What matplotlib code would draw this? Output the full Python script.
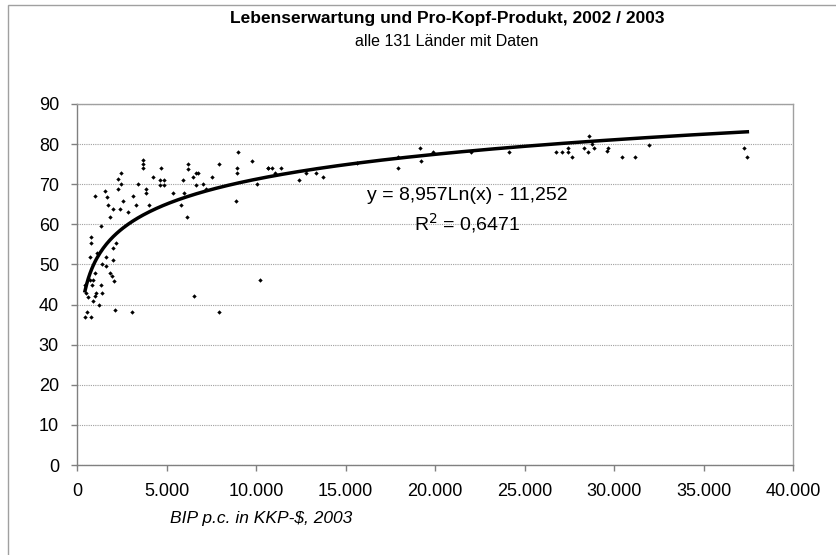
import numpy as np
import matplotlib
matplotlib.use("Agg")
import matplotlib.pyplot as plt
from matplotlib.ticker import FuncFormatter, MultipleLocator
from matplotlib.patches import Rectangle

# ---- data ----
gdp = [3706, 3706, 3706, 6220, 6220, 9013, 9760, 8920, 8920, 7950,
       10650, 2458, 4675, 4637, 4880, 4637, 4880, 6650, 6780, 6500,
       5940, 2310, 2458, 3390, 3855, 3855, 4263, 5347, 5995, 7057,
       7560, 7207, 6650, 10075, 8865, 5810, 6163, 1564, 1658, 1006,
       2310, 2550, 3110, 1995, 2402, 1750, 2832, 3296, 4040, 1844,
       1341, 726, 765, 765, 1603, 1603, 1995, 2162, 1995, 1413,
       1100, 1006, 1844, 1940, 2084, 1341, 447, 726, 877, 821,
       503, 631, 1061, 1006, 911, 1413, 1246, 2140, 542, 447,
       782, 3055, 6555, 7934, 10224,
       10690, 10877, 11400, 11064, 12420, 12795, 13353, 13760, 15660, 17917, 17917,
       19163, 19220, 19870, 22013, 24153, 26760, 27080, 27450, 27450, 27640,
       28330, 28570, 28620, 28790, 28885, 29590, 29685, 30430, 31175, 31975,
       37265, 37450]
life = [76, 75, 74, 75, 73.8, 78, 75.8, 74, 72.9, 75,
        74, 72.9, 74, 71, 71, 69.8, 69.8, 72.9, 72.9, 71.7,
        71, 71.2, 70, 70, 68.8, 67.7, 71.7, 67.7, 67.7, 70,
        71.7, 68.7, 69.8, 70, 65.9, 64.8, 61.9, 68.2, 66.9, 67.1,
        68.7, 65.9, 67.1, 63.7, 63.7, 64.8, 63.1, 64.8, 64.8, 61.9,
        59.6, 51.9, 56.9, 55.3, 51.9, 49.7, 54.2, 55.3, 51.1, 50.1,
        52.9, 47.9, 47.9, 47.1, 45.9, 45, 45, 46, 46, 45,
        42.8, 42, 42.8, 42.1, 41, 42.8, 39.9, 38.6, 38.1, 37,
        37, 38.1, 42.1, 38.1, 46.1,
        74, 74, 74, 72.9, 71, 72.9, 72.9, 71.7, 75.2, 76.7, 74,
        79, 75.8, 78, 78, 78, 78, 78, 79, 78, 76.9,
        79, 78, 82, 80, 79, 78.3, 79, 76.9, 76.9, 79.8,
        79, 76.9]

# trendline parameters (as displayed on the chart)
trend_a = 8.957
trend_b = -11.252
trend_label = "y = 8,957Ln(x) - 11,252"
r2_label = "R$^2$ = 0,6471"

title = "Lebenserwartung und Pro-Kopf-Produkt, 2002 / 2003"
subtitle = "alle 131 Länder mit Daten"
xlabel = "BIP p.c. in KKP-$, 2003"

plt.rcParams['font.family'] = ['Liberation Sans', 'DejaVu Sans']

W, H = 837, 555
fig = plt.figure(figsize=(W / 100, H / 100), dpi=100)
fig.patch.set_facecolor("white")

# outer chart-area border (extends past right and bottom edges)
fig.patches.append(Rectangle((8 / W, -0.1), 1.2, 1 - 5 / H + 0.1,
                             transform=fig.transFigure, fill=False,
                             edgecolor="#a0a0a0", linewidth=1.0))

left, right, top, bottom = 77, 793, 104, 465
ax = fig.add_axes([left / W, 1 - bottom / H, (right - left) / W, (bottom - top) / H])

ax.set_xlim(0, 40000)
ax.set_ylim(0, 90)
ax.xaxis.set_major_locator(MultipleLocator(5000))
ax.yaxis.set_major_locator(MultipleLocator(10))
ax.xaxis.set_major_formatter(FuncFormatter(lambda v, p: f"{int(v):,}".replace(",", ".")))

ax.grid(axis="y", linestyle=(0, (1, 1)), color="#a0a0a0", linewidth=0.8)
ax.set_axisbelow(True)

for s in ["top", "right"]:
    ax.spines[s].set_color("#a0a0a0")
    ax.spines[s].set_linewidth(1.0)
for s in ["left", "bottom"]:
    ax.spines[s].set_color("#808080")
    ax.spines[s].set_linewidth(1.0)

ax.tick_params(axis="both", labelsize=13, length=4, color="#808080", width=1)
ax.tick_params(axis="x", pad=9)
ax.tick_params(axis="y", pad=9)

ax.scatter(gdp, life, s=5, marker="D", color="black", linewidths=0, zorder=3)

xs = np.linspace(min(gdp), max(gdp), 400)
ax.plot(xs, trend_a * np.log(xs) + trend_b, color="black", linewidth=2.5, zorder=4)

ax.text(21790, 67.2, trend_label, fontsize=14, ha="center", va="center")
ax.text(21790, 60.2, r2_label, fontsize=14, ha="center", va="center")

fig.text(447 / W, 1 - 18 / H, title, fontsize=12.5, fontweight="bold", ha="center", va="center")
fig.text(447 / W, 1 - 41 / H, subtitle, fontsize=11.5, ha="center", va="center")
fig.text(170 / W, 1 - 518 / H, xlabel, fontsize=12.5, style="italic", ha="left", va="center")

fig.savefig("out.png", dpi=100)
